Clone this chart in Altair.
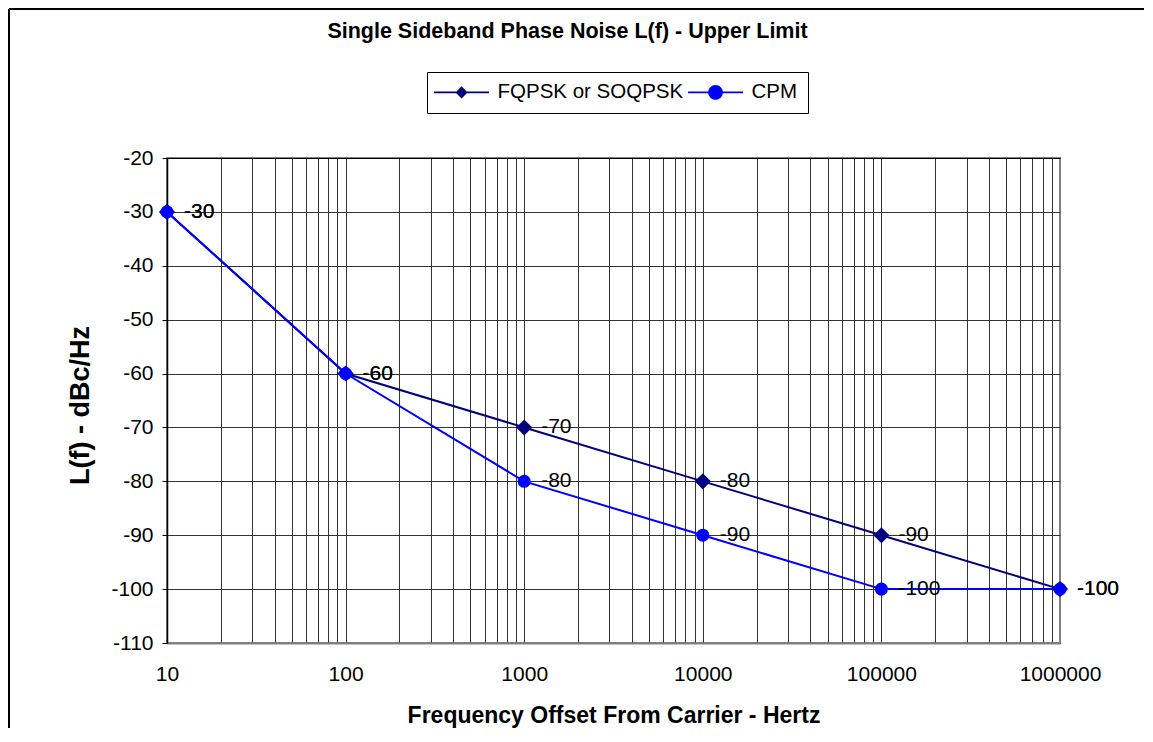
import altair as alt
import pandas as pd

# ---- data ----
freq = [10, 100, 1000, 10000, 100000, 1000000]
fqpsk = [-30, -60, -70, -80, -90, -100]
cpm = [-30, -60, -80, -90, -100, -100]
series_names = ["FQPSK or SOQPSK", "CPM"]
series_colors = ["#000080", "#0000FF"]
series_shapes = ["diamond", "circle"]
series_sizes = [260, 170]
y_ticks = list(range(-110, -19, 10))
x_decades = ["10", "100", "1000", "10000", "100000", "1000000"]
x_grid = [m * 10 ** k for k in range(1, 6) for m in range(1, 10)] + [1000000]

title_text = "Single Sideband Phase Noise L(f) - Upper Limit"
x_title = "Frequency Offset From Carrier - Hertz"
y_title = "L(f) - dBc/Hz"

rows = []
for name, vals in zip(series_names, [fqpsk, cpm]):
    for f, v in zip(freq, vals):
        rows.append({"series": name, "freq": f, "value": v, "label": str(v)})
df = pd.DataFrame(rows)

FONT = "Liberation Sans"
W, H = 893, 485

x_enc = alt.X(
    "freq:Q",
    scale=alt.Scale(type="log", domain=[10, 1000000], nice=False),
    axis=alt.Axis(
        title=x_title,
        values=x_grid,
        labelExpr="indexof(" + str(x_decades) + ", '' + datum.value) >= 0 ? '' + datum.value : ''",
        labelOverlap=False,
        labelFlush=False,
        labelFont=FONT,
        labelFontSize=21,
        labelColor="black",
        labelPadding=20,
        ticks=False,
        tickSize=0,
        domainColor="#808080",
        domainWidth=2,
        grid=True,
        gridColor={"condition": {"test": "datum.value >= 1000000", "value": "#808080"}, "value": "#333333"},
        gridWidth=1,
        gridOpacity=1,
        titleFont=FONT,
        titleFontSize=23,
        titleFontWeight="bold",
        titleColor="black",
        titleBaseline="alphabetic",
        titleY=79,
    ),
)

y_enc = alt.Y(
    "value:Q",
    scale=alt.Scale(domain=[-110, -20], nice=False, zero=False),
    axis=alt.Axis(
        title=y_title,
        values=y_ticks,
        labelExpr="'' + datum.value",
        labelFont=FONT,
        labelFontSize=21,
        labelColor="black",
        labelPadding=9,
        labelOverlap=False,
        labelFlush=False,
        ticks=True,
        tickSize=5,
        tickColor="black",
        tickWidth=1,
        domainColor="black",
        domainWidth=1.5,
        grid=True,
        gridColor={"condition": {"test": "datum.value >= -20", "value": "#000000"}, "value": "#333333"},
        gridWidth=1,
        gridOpacity=1,
        titleFont=FONT,
        titleFontSize=27,
        titleFontWeight="bold",
        titleColor="black",
        titleAngle=270,
        titleAlign="center",
        titleBaseline="alphabetic",
        titleX=-79,
        titleY=247,
    ),
)

# legend symbols: line + marker, drawn as filled shapes (same winding)
diamond_path = "M-2.4,-0.18H7.6V0.18H-2.4ZM2.6,-1.1L3.7,0L2.6,1.1L1.5,0Z"
circle_path = "M-2.4,-0.18H7.6V0.18H-2.4ZM1.27,0A1.33,1.33,0,1,1,3.93,0A1.33,1.33,0,1,1,1.27,0Z"

legend_cfg = alt.Legend(
    title=None,
    orient="none",
    legendX=260,
    legendY=-86,
    direction="horizontal",
    labelFont=FONT,
    labelFontSize=20.5,
    labelColor="black",
    labelOffset=40,
    labelLimit=400,
    columnPadding=4,
    padding=10,
    strokeColor="black",
    fillColor="white",
    symbolSize=121,
    symbolStrokeWidth=0,
    symbolOpacity=1,
)

base = alt.Chart(df)

# outer frame (only its top and left edges fall inside the picture)
frame_top = alt.Chart(pd.DataFrame({"b": [0]})).mark_rule(color="black", strokeWidth=2).encode(
    x=alt.value(-158), x2=alt.value(977), y=alt.value(-149)
)
frame_left = alt.Chart(pd.DataFrame({"b": [0]})).mark_rule(color="black", strokeWidth=2).encode(
    x=alt.value(-158), y=alt.value(-149), y2=alt.value(570)
)

layers = [frame_top, frame_left]
for name, col in zip(series_names, series_colors):
    layers.append(
        base.transform_filter(alt.datum.series == name)
        .mark_line(strokeWidth=2, color=col)
        .encode(x=x_enc, y=y_enc)
    )
for name, col, shp, sz in zip(series_names, series_colors, series_shapes, series_sizes):
    layers.append(
        base.transform_filter(alt.datum.series == name)
        .mark_point(filled=True, opacity=1, shape=shp, size=sz, strokeWidth=0, color=col)
        .encode(x=x_enc, y=y_enc)
    )

labels = base.mark_text(
    align="left", baseline="middle", dx=17, font=FONT, fontSize=21, color="black"
).encode(x=x_enc, y=y_enc, text="label:N")
layers.append(labels)

# legend carrier layer (draws no marks; its scales drive the legend)
legend_layer = base.transform_filter("datum.freq < 0").mark_point(
    filled=True, opacity=1, size=121, strokeWidth=0
).encode(
    x=x_enc,
    y=y_enc,
    color=alt.Color("series:N", scale=alt.Scale(domain=series_names, range=series_colors), legend=legend_cfg),
    shape=alt.Shape(
        "series:N",
        scale=alt.Scale(domain=series_names, range=[diamond_path, circle_path]),
        legend=legend_cfg,
    ),
)
layers.append(legend_layer)

chart = (
    alt.layer(*layers)
    .properties(
        width=W,
        height=H,
        autosize=alt.AutoSizeParams(type="none"),
        padding={"left": 159, "top": 150, "right": 85, "bottom": 86},
        background="white",
        title=alt.TitleParams(
            text=title_text,
            font=FONT,
            fontSize=21.5,
            fontWeight="bold",
            color="black",
            anchor="middle",
            dx=-46,
            offset=-51,
            baseline="alphabetic",
        ),
    )
    .configure_view(stroke="#808080", strokeWidth=2)
)

chart.save("out.html", embed_options={"renderer": "svg", "actions": False})
